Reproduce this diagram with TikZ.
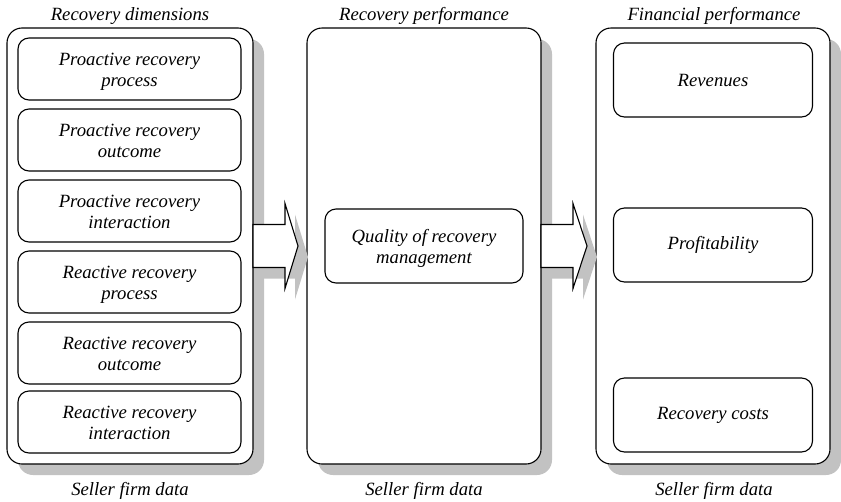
\documentclass[tikz,border=0pt]{standalone}
\usepackage{fontspec}
\setmainfont{Liberation Serif}
\usetikzlibrary{calc}
\definecolor{shadowgray}{gray}{0.76}

\tikzset{
  shadowed/.style={preaction={fill=shadowgray, draw=none,
      transform canvas={xshift=#1pt, yshift=-#1pt}}},
  outerbox/.style={draw, fill=white, line width=1.1pt, rounded corners=15pt,
      inner sep=0pt, outer sep=0pt, shadowed=11},
  innerbox/.style={draw, fill=white, line width=1.1pt, rounded corners=11pt,
      inner sep=2pt, outer sep=0pt, align=center,
      font=\fontsize{18.7}{21.5}\selectfont\itshape},
  caption/.style={anchor=base, inner sep=0pt,
      font=\fontsize{18.7}{21.5}\selectfont\itshape},
  blockarrow/.style={draw, fill=white, line width=1.1pt, line join=miter,
      preaction={fill=shadowgray, draw=none,
      transform canvas={xshift=10pt, yshift=-11pt}}},
}

% two-line label with fixed top and bottom struts, so every box sets alike
\newcommand{\twolines}[2]{\rule{0pt}{18.7pt}#1\\#2\rule[-4.5pt]{0pt}{4.5pt}}

% block arrow from the east side of #1 to just before the west side of #2
\newcommand{\flowarrow}[2]{%
  \draw[blockarrow] ($(#1.east)+(0,-21.5)$) -- ++(32,0) -- ++(0,-21)
    -- ($(#2.west)+(-9,0)$)
    -- ($(#1.east)+(32,42.5)$) -- ++(0,-21) -- ($(#1.east)+(0,21.5)$) -- cycle;}

\begin{document}
\begin{tikzpicture}[x=1pt, y=-1pt]
\useasboundingbox (0,0) rectangle (841,501);

% recovery dimensions
\node[outerbox, minimum width=246pt, minimum height=436pt] (dims) at (130,246) {};
\node[innerbox, minimum width=223pt, minimum height=62pt] (pp) at (129.5,69)  {\twolines{Proactive recovery}{process}};
\node[innerbox, minimum width=223pt, minimum height=62pt] (po) at (129.5,140) {\twolines{Proactive recovery}{outcome}};
\node[innerbox, minimum width=223pt, minimum height=62pt] (pi) at (129.5,211) {\twolines{Proactive recovery}{interaction}};
\node[innerbox, minimum width=223pt, minimum height=62pt] (rp) at (129.5,282) {\twolines{Reactive recovery}{process}};
\node[innerbox, minimum width=223pt, minimum height=62pt] (ro) at (129.5,353) {\twolines{Reactive recovery}{outcome}};
\node[innerbox, minimum width=223pt, minimum height=62pt] (ri) at (129.5,422) {\twolines{Reactive recovery}{interaction}};

% recovery performance
\node[outerbox, minimum width=234pt, minimum height=436pt] (perf) at (424,246) {};
\node[innerbox, minimum width=198pt, minimum height=74pt] (qual) at (424,246) {\twolines{Quality of recovery}{management}};

% arrow from dimensions to performance
\flowarrow{dims}{perf}

% financial performance
\node[outerbox, minimum width=234pt, minimum height=436pt] (fin) at (713,246) {};
\node[innerbox, minimum width=199pt, minimum height=74pt] (rev)  at (713,80)  {Revenues};
\node[innerbox, minimum width=199pt, minimum height=74pt] (prof) at (713,245) {Profitability};
\node[innerbox, minimum width=199pt, minimum height=74pt] (cost) at (713,415) {Recovery costs};

% arrow from performance to financial results
\flowarrow{perf}{fin}

% column headings and data sources
\node[caption] (t1) at (130,20) {Recovery dimensions};
\node[caption] (t2) at (424,20) {Recovery performance};
\node[caption] (t3) at (714,20) {Financial performance};
\node[caption] (s1) at (130,495) {Seller firm data};
\node[caption] (s2) at (424,495) {Seller firm data};
\node[caption] (s3) at (714,495) {Seller firm data};
\end{tikzpicture}
\end{document}
